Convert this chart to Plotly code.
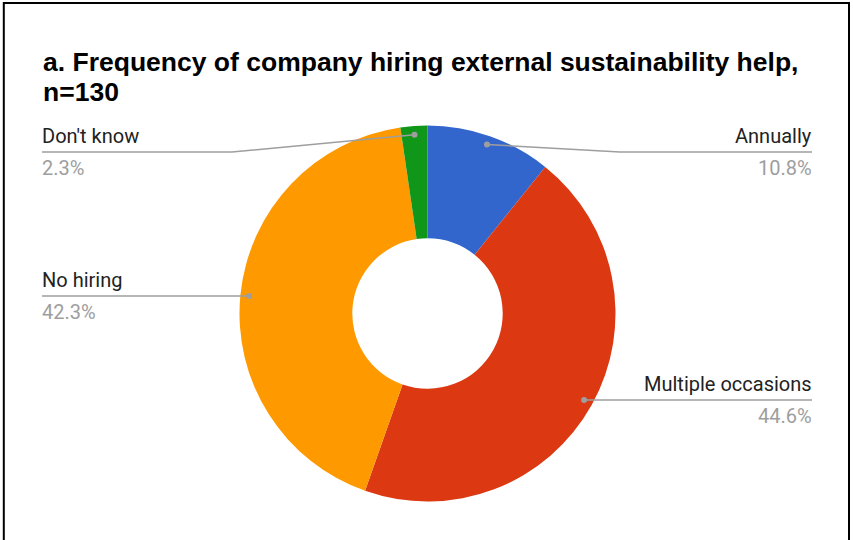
import math
import plotly.graph_objects as go

# Survey responses (counts out of n=130)
categories = ["Annually", "Multiple occasions", "No hiring", "Don't know"]
counts = [14, 58, 55, 3]
colors = ["#3366CC", "#DC3912", "#FF9900", "#109618"]

# Title lines
title_lines = ["a. Frequency of company hiring external sustainability help,", "n=130"]

# Label placement: side, y of the label rule (px), elbow x (px, None = straight)
label_side = ["right", "right", "left", "left"]
label_rule_y = [152, 400, 296, 152]
label_elbow_x = [620, None, None, 232]

W, H = 853, 540
CX, CY, R = 427.5, 313.5, 188.0   # donut centre and outer radius in px
LEFT_X, RIGHT_X = 42, 812


def px(x):
    return x / W


def py(y):
    return 1 - y / H


total = sum(counts)
shares = [c / total * 100 for c in counts]

fig = go.Figure(
    go.Pie(
        labels=categories,
        values=counts,
        marker=dict(colors=colors, line=dict(width=0)),
        hole=0.4,
        sort=False,
        direction="clockwise",
        rotation=0,
        textinfo="none",
        textposition="none",
        hoverinfo="label+percent",
        domain=dict(x=[px(CX - R), px(CX + R)], y=[py(CY + R), py(CY - R)]),
        showlegend=False,
    )
)

shapes = []
annotations = []
gray = "#9e9e9e"
cum = 0.0
for name, share, side, ly, ex in zip(categories, shares, label_side, label_rule_y, label_elbow_x):
    mid = (cum + share / 2) / 100 * 2 * math.pi
    cum += share
    r = R * 0.953
    dx = CX + r * math.sin(mid)
    dy = CY - r * math.cos(mid)
    end_x = RIGHT_X if side == "right" else LEFT_X
    pts = [(dx, dy)]
    if ex is not None:
        pts.append((ex, ly))
    else:
        pts[0] = (dx, ly)
    pts.append((end_x, ly))
    path = "M " + " L ".join(f"{px(a)},{py(b)}" for a, b in pts)
    shapes.append(dict(type="path", xref="paper", yref="paper", path=path,
                       line=dict(color=gray, width=1.5)))
    shapes.append(dict(type="circle", xref="paper", yref="paper",
                       x0=px(pts[0][0] - 3), x1=px(pts[0][0] + 3),
                       y0=py(pts[0][1] + 3), y1=py(pts[0][1] - 3),
                       fillcolor=gray, line=dict(width=0)))
    anchor = "right" if side == "right" else "left"
    tx = end_x + 2 if side == "right" else end_x - 2
    annotations.append(dict(text=name, x=px(tx), y=py(ly - 2), xref="paper", yref="paper",
                            xanchor=anchor, yanchor="bottom", showarrow=False,
                            font=dict(family="Roboto", size=20, color="#222222")))
    annotations.append(dict(text=f"{share:.1f}%", x=px(tx), y=py(ly + 2), xref="paper", yref="paper",
                            xanchor=anchor, yanchor="top", showarrow=False,
                            font=dict(family="Roboto", size=20, color=gray)))

# Title, one annotation per line for tight line spacing
for i, line in enumerate(title_lines):
    annotations.append(dict(
        text=f"<b>{line}</b>", x=px(41), y=py(62.5 + 29 * i), xref="paper", yref="paper",
        xanchor="left", yanchor="middle", align="left", showarrow=False,
        font=dict(family="Liberation Sans, Arial", size=26.5, color="#000000")))

# Outer frame
shapes.append(dict(type="rect", xref="paper", yref="paper",
                   x0=px(3.8), x1=px(849), y0=-0.2, y1=py(3),
                   line=dict(color="#000000", width=2)))

fig.update_layout(
    width=W, height=H,
    margin=dict(l=0, r=0, t=0, b=0),
    paper_bgcolor="#ffffff",
    plot_bgcolor="#ffffff",
    shapes=shapes,
    annotations=annotations,
)

fig.write_html("out.html")
